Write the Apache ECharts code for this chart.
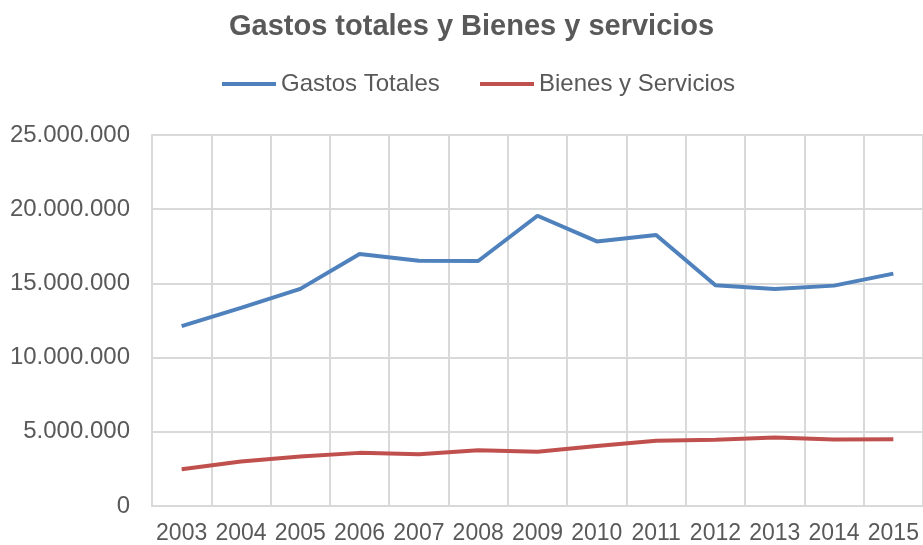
<!DOCTYPE html>
<html>
<head>
<meta charset="utf-8">
<script src="https://cdn.jsdelivr.net/npm/echarts@6/dist/echarts.min.js"></script>
<style>
  html, body { margin: 0; padding: 0; background: #fff; }
  #chart { width: 923px; height: 545px; }
</style>
</head>
<body>
<div id="chart"></div>
<script>
// datos
var years = ['2003','2004','2005','2006','2007','2008','2009','2010','2011','2012','2013','2014','2015'];
var gastosTotales = [12120000, 13350000, 14630000, 16980000, 16530000, 16510000, 19560000, 17830000, 18260000, 14870000, 14630000, 14850000, 15660000];
var bienesServicios = [2470000, 3000000, 3340000, 3580000, 3490000, 3760000, 3650000, 4050000, 4390000, 4460000, 4620000, 4480000, 4500000];
var yTicks = [0, 5000000, 10000000, 15000000, 20000000, 25000000];

var textColor = '#595959';
var gridColor = '#d9d9d9';
var fuente = 'Liberation Sans, Arial, sans-serif';

function miles(v) {
    return String(v).replace(/\B(?=(\d{3})+(?!\d))/g, '.');
}

function leyenda(nombre, x) {
    return {
        left: x,
        top: 72,
        padding: 0,
        itemWidth: 54,
        itemHeight: 4,
        icon: 'rect',
        data: [nombre],
        textStyle: { fontFamily: fuente, fontSize: 24, color: textColor }
    };
}

var myChart = echarts.init(document.getElementById('chart'));

var option = {
    animation: false,
    title: {
        text: 'Gastos totales y Bienes y servicios',
        left: 229,
        top: 12,
        padding: 0,
        textStyle: {
            fontFamily: fuente,
            fontSize: 29,
            fontWeight: 'bold',
            color: textColor
        }
    },
    legend: [leyenda('Gastos Totales', 222), leyenda('Bienes y Servicios', 480)],
    grid: {
        left: 152,
        right: -2,
        top: 135,
        bottom: 38
    },
    xAxis: {
        type: 'category',
        data: years,
        boundaryGap: true,
        axisLine: { lineStyle: { color: gridColor, width: 2 } },
        axisTick: { show: false },
        splitLine: { show: true, lineStyle: { color: gridColor, width: 2 } },
        axisLabel: {
            margin: 16,
            interval: 0,
            fontFamily: fuente,
            fontSize: 23,
            color: textColor
        }
    },
    yAxis: {
        type: 'value',
        min: yTicks[0],
        max: yTicks[yTicks.length - 1],
        interval: yTicks[1] - yTicks[0],
        axisLine: { show: true, lineStyle: { color: gridColor, width: 2 } },
        axisTick: { show: false },
        splitLine: { lineStyle: { color: gridColor, width: 2 } },
        axisLabel: {
            margin: 22,
            fontFamily: fuente,
            fontSize: 24,
            color: textColor,
            formatter: miles
        }
    },
    series: [{
        name: 'Gastos Totales',
        type: 'line',
        data: gastosTotales,
        symbol: 'none',
        lineStyle: { color: '#4f81bd', width: 4 },
        itemStyle: { color: '#4f81bd' }
    }, {
        name: 'Bienes y Servicios',
        type: 'line',
        data: bienesServicios,
        symbol: 'none',
        lineStyle: { color: '#c0504d', width: 4 },
        itemStyle: { color: '#c0504d' }
    }]
};

myChart.setOption(option);
window.addEventListener('resize', function () { myChart.resize(); });
</script>
</body>
</html>
